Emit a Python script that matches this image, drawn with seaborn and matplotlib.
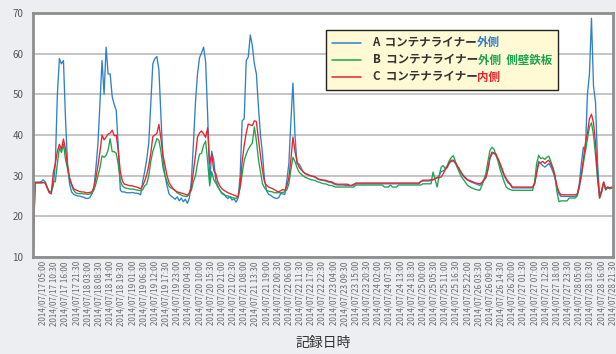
import numpy as np
import pandas as pd
import matplotlib
matplotlib.use("Agg")
import matplotlib.pyplot as plt
from matplotlib.offsetbox import AnchoredOffsetbox, HPacker, VPacker, TextArea, DrawingArea
from matplotlib.lines import Line2D
import seaborn as sns

# ---------------- data (hourly readings from 2014/07/17 00:00) ----------------
start_time = "2014-07-17 00:00"

a_outer = [
    10.0, 28.4, 28.4, 28.4, 28.5, 29.0, 28.5, 27.2, 26.0, 26.0, 27.5, 33.0,
    50.0, 58.8, 57.5, 58.3, 44.0, 33.0, 28.0, 26.0, 25.4, 25.2, 25.0, 25.0,
    24.8, 24.7, 24.4, 24.4, 24.6, 25.5, 27.0, 32.0, 38.0, 48.0, 58.3, 50.0,
    61.6, 55.0, 55.0, 49.4, 47.5, 46.0, 37.0, 26.4, 26.0, 26.0, 25.8, 25.8,
    25.8, 25.9, 25.7, 25.7, 25.6, 25.3, 28.5, 31.0, 34.0, 38.0, 48.0, 57.5,
    58.8, 59.3, 56.0, 44.6, 34.0, 30.0, 27.5, 25.5, 25.0, 24.6, 24.2, 24.8,
    23.8, 24.5, 23.6, 24.2, 23.2, 24.5, 28.8, 38.0, 48.0, 55.0, 59.0, 60.2,
    61.6, 58.0, 45.0, 28.2, 36.0, 33.8, 28.8, 27.5, 26.4, 25.8, 25.5, 24.8,
    24.4, 24.9, 24.0, 24.3, 23.5, 24.5, 30.0, 43.5, 44.0, 58.3, 59.2, 64.6,
    62.0, 57.5, 55.0, 47.0, 40.0, 35.4, 29.0, 26.4, 25.4, 25.2, 24.8, 24.5,
    24.4, 24.6, 25.6, 25.5, 25.4, 28.8, 33.0, 43.5, 52.8, 40.0, 32.9, 32.9,
    32.0, 30.9, 30.6, 30.4, 30.1, 30.0, 29.8, 29.6, 29.2, 29.0, 28.9, 28.8,
    28.7, 28.5, 28.4, 28.3, 28.0, 27.8, 27.7, 27.7, 27.7, 27.7, 27.6, 27.6,
    27.6, 27.6, 27.7, 28.0, 28.0, 28.0, 28.0, 28.0, 28.0, 28.0, 28.0, 28.0,
    28.0, 28.0, 28.0, 28.0, 28.0, 28.0, 28.0, 28.0, 28.0, 28.0, 28.0, 28.0,
    28.0, 28.0, 28.0, 28.0, 28.0, 28.0, 28.0, 28.0, 28.0, 28.0, 28.0, 28.5,
    28.7, 28.7, 28.7, 28.7, 28.8, 29.0, 29.2, 29.5, 30.0, 31.0, 31.2, 31.5,
    32.0, 33.0, 33.5, 33.6, 33.0, 32.0, 31.3, 30.5, 29.8, 29.3, 28.9, 28.6,
    28.4, 28.2, 28.0, 27.8, 27.6, 28.0, 28.8, 29.5, 31.5, 34.2, 35.3, 35.5,
    35.0, 34.0, 32.5, 31.2, 30.0, 29.0, 28.2, 27.8, 27.0, 27.0, 27.0, 27.0,
    27.0, 27.0, 27.0, 27.0, 27.0, 27.0, 27.0, 28.0, 31.0, 33.5, 33.0, 32.5,
    32.1, 32.5, 33.0, 32.2, 31.0, 29.5, 27.0, 25.5, 24.9, 24.9, 24.9, 24.9,
    24.9, 24.9, 24.9, 24.9, 25.3, 28.0, 33.0, 37.0, 36.0, 50.0, 55.0, 68.7,
    52.0, 48.0, 33.0, 25.0, 26.5, 28.4, 26.5, 27.2, 26.8, 27.0, 27.0,
]

b_outer_wall = [
    10.0, 28.2, 28.2, 28.2, 28.2, 28.3, 28.2, 27.0, 26.0, 26.2, 28.5, 28.5,
    33.0, 36.8, 35.7, 37.7, 34.0, 31.7, 29.0, 27.7, 26.4, 25.8, 25.6, 25.6,
    25.6, 25.5, 25.5, 25.4, 25.5, 25.7, 26.5, 28.0, 30.0, 32.0, 34.9, 34.5,
    35.0, 36.3, 39.1, 35.9, 35.9, 35.5, 32.7, 28.7, 27.5, 27.1, 26.9, 26.8,
    26.7, 26.7, 26.6, 26.5, 26.4, 26.3, 26.5, 27.5, 27.9, 30.0, 33.5, 36.0,
    37.5, 39.1, 38.7, 35.9, 32.0, 30.0, 28.5, 27.3, 27.0, 26.7, 26.4, 25.8,
    25.5, 25.2, 25.0, 24.9, 24.9, 25.5, 26.4, 28.5, 30.0, 33.0, 35.3, 35.5,
    37.5, 38.5, 33.5, 27.5, 31.0, 29.0, 28.2, 27.2, 26.5, 25.6, 25.3, 25.1,
    25.0, 24.8, 24.6, 24.5, 24.4, 24.8, 27.0, 30.5, 33.7, 35.3, 36.5, 37.3,
    38.0, 42.0, 38.6, 34.0, 31.0, 28.0, 27.0, 26.4, 26.2, 26.1, 26.0, 25.8,
    25.8, 25.8, 25.8, 25.9, 26.0, 26.5, 28.0, 31.5, 34.5, 33.5, 32.0, 30.9,
    30.4, 30.0, 29.6, 29.4, 29.2, 29.0, 28.9, 28.8, 28.5, 28.4, 28.2, 28.0,
    28.0, 27.8, 27.6, 27.6, 27.4, 27.2, 27.2, 27.2, 27.2, 27.2, 27.2, 27.2,
    27.2, 27.2, 27.2, 27.7, 27.7, 27.7, 27.7, 27.7, 27.7, 27.7, 27.7, 27.7,
    27.7, 27.7, 27.7, 27.7, 27.7, 27.2, 27.2, 27.2, 27.7, 27.2, 27.2, 27.2,
    27.7, 27.7, 27.7, 27.7, 27.7, 27.7, 27.7, 27.7, 27.7, 27.7, 27.7, 27.7,
    28.0, 28.0, 28.0, 28.0, 28.0, 30.9, 29.0, 27.2, 30.0, 32.1, 32.5, 31.7,
    32.5, 33.7, 34.5, 34.9, 33.5, 32.0, 30.7, 29.7, 29.0, 28.3, 27.6, 27.3,
    27.0, 26.8, 26.6, 26.5, 26.4, 27.5, 29.0, 30.5, 33.5, 36.2, 37.0, 36.5,
    35.0, 33.5, 31.5, 30.0, 28.5, 27.2, 26.8, 26.6, 26.4, 26.4, 26.4, 26.4,
    26.4, 26.4, 26.4, 26.4, 26.4, 26.4, 26.4, 28.5, 33.0, 35.0, 34.2, 34.4,
    34.0, 34.5, 34.8, 33.5, 32.0, 30.0, 26.0, 23.6, 23.8, 23.8, 23.8, 23.8,
    24.5, 24.5, 24.5, 24.5, 25.0, 27.0, 30.0, 33.0, 36.0, 39.0, 42.0, 43.0,
    40.0, 35.0, 29.0, 24.5, 26.0, 28.4, 26.5, 27.0, 26.8, 27.0, 27.0,
]

c_inner = [
    10.0, 28.3, 28.3, 28.3, 28.3, 28.3, 28.3, 27.0, 25.8, 25.5, 30.8, 33.0,
    36.0, 37.7, 36.5, 39.0, 36.5, 32.5, 29.5, 28.0, 26.8, 26.5, 26.3, 26.1,
    26.0, 26.0, 25.8, 25.8, 25.9, 26.0, 27.2, 29.5, 32.5, 36.0, 40.0, 38.8,
    39.5, 40.2, 40.5, 41.2, 39.8, 40.0, 36.0, 31.0, 28.7, 27.9, 27.8, 27.6,
    27.5, 27.5, 27.3, 27.2, 27.0, 26.8, 27.5, 28.7, 30.2, 32.5, 35.5, 39.6,
    40.0, 40.4, 42.6, 39.1, 35.1, 32.5, 30.0, 28.3, 27.5, 26.8, 26.3, 26.0,
    25.9, 25.7, 25.6, 25.4, 25.2, 25.8, 27.2, 31.0, 35.0, 39.5, 40.5, 41.0,
    40.3, 39.4, 41.8, 32.9, 35.3, 31.3, 30.5, 28.5, 27.5, 26.8, 26.4, 26.1,
    25.8, 25.6, 25.4, 25.2, 25.0, 24.8, 27.5, 33.5, 37.5, 40.5, 42.7, 42.5,
    42.3, 43.5, 43.3, 39.0, 35.0, 31.3, 28.5, 27.6, 27.2, 27.0, 26.8, 26.5,
    26.2, 26.0, 26.3, 26.6, 26.4, 27.5, 29.5, 34.0, 39.5, 36.0, 33.5, 32.1,
    31.5, 31.0, 30.5, 30.3, 30.1, 29.9, 29.8, 29.7, 29.3, 29.1, 29.0, 28.9,
    28.9, 28.7, 28.5, 28.5, 28.2, 28.0, 27.9, 27.9, 27.9, 27.9, 27.9, 27.9,
    27.6, 27.6, 27.9, 28.2, 28.2, 28.2, 28.2, 28.2, 28.2, 28.2, 28.2, 28.2,
    28.2, 28.2, 28.2, 28.2, 28.2, 28.2, 28.2, 28.2, 28.2, 28.2, 28.2, 28.2,
    28.2, 28.2, 28.2, 28.2, 28.2, 28.2, 28.2, 28.2, 28.2, 28.2, 28.2, 28.6,
    28.9, 28.9, 28.9, 28.9, 29.0, 29.0, 29.3, 29.5, 29.5, 29.7, 30.5, 31.5,
    32.3, 33.3, 33.8, 33.8, 33.2, 32.4, 31.6, 30.7, 30.0, 29.5, 29.0, 28.8,
    28.6, 28.4, 28.2, 28.1, 28.0, 28.3, 29.0, 29.5, 31.5, 34.5, 35.8, 35.6,
    35.3, 34.2, 33.0, 31.7, 30.3, 29.3, 28.5, 28.0, 27.2, 27.2, 27.2, 27.2,
    27.2, 27.2, 27.2, 27.2, 27.2, 27.2, 27.2, 28.0, 30.5, 33.0, 33.2, 33.5,
    33.0, 33.5, 33.8, 32.8, 31.8, 30.0, 27.5, 26.0, 25.3, 25.3, 25.3, 25.3,
    25.3, 25.3, 25.3, 25.3, 25.5, 27.5, 30.0, 34.0, 38.0, 40.5, 44.0, 45.1,
    43.0, 38.0, 30.0, 24.5, 26.0, 28.4, 26.8, 27.2, 27.0, 27.2, 27.2,
]

series_keys = ["A", "B", "C"]
legend_prefix = ["A  コンテナライナー", "B  コンテナライナー", "C  コンテナライナー"]
legend_suffix = ["外側", "外側  側壁鉄板", "内側"]
tick_first = "2014-07-17 05:00"
tick_last = "2014-07-28 21:30"
tick_step = "330min"
x_end = "2014-07-28 21:36"
y_ticks = [10, 20, 30, 40, 50, 60, 70]
x_label = "記録日時"

# ---------------- styling ----------------
colors = {"A": "#2f80c9", "B": "#1ea34f", "C": "#e8232c"}
text_dark = "#333333"

sns.set_style("white")
plt.rcParams["font.family"] = ["Noto Sans CJK JP", "DejaVu Sans"]

n = len(a_outer)
times = pd.date_range(start_time, periods=n, freq="h")
df = pd.DataFrame({
    "time": np.concatenate([times, times, times]),
    "value": a_outer + b_outer_wall + c_inner,
    "series": np.repeat(series_keys, n),
})

fig = plt.figure(figsize=(6.16, 3.54), dpi=100, facecolor="#eceef1")
ax = fig.add_axes([33 / 616, 1 - 257 / 354, 580 / 616, 244 / 354])
ax.set_facecolor("white")

sns.lineplot(data=df, x="time", y="value", hue="series", palette=colors,
             linewidth=0.95, estimator=None, legend=False, ax=ax)

ax.set_xlim(pd.Timestamp(start_time), pd.Timestamp(x_end))
ax.set_ylim(10, 70)
ax.set_yticks(y_ticks)
ax.yaxis.grid(True, color="#b5b5b5", linewidth=1.1)
ax.xaxis.grid(False)
ax.set_axisbelow(True)

ticks = pd.date_range(tick_first, tick_last, freq=tick_step)
ax.set_xticks(ticks)
ax.set_xticklabels([t.strftime("%Y/%m/%d %H:%M") for t in ticks],
                   rotation=90, fontsize=5.8, color="#6a6a6a")
ax.tick_params(axis="x", length=0, pad=3)
ax.tick_params(axis="y", length=0, pad=7, labelsize=7, labelcolor="#555555")
ax.set_ylabel("")
ax.set_xlabel(x_label, fontsize=10, color=text_dark, va="center")
ax.xaxis.set_label_coords(0.5, -(343 - 257) / 244)

for sp in ax.spines.values():
    sp.set_color("#8e8e8e")
    sp.set_linewidth(2.0)
    sp.set_visible(True)

# ---------------- legend with two-colour labels ----------------
legend_rows = []
for key, pre, suf in zip(series_keys, legend_prefix, legend_suffix):
    da = DrawingArea(21, 9, 0, 0)
    da.add_artist(Line2D([0, 21], [4.5, 4.5], color=colors[key], linewidth=1.1))
    t1 = TextArea(pre, textprops=dict(color=text_dark, fontsize=8.3, fontweight="bold"))
    t2 = TextArea(suf, textprops=dict(color=colors[key], fontsize=8.3, fontweight="bold"))
    label = HPacker(children=[t1, t2], pad=0, sep=0)
    legend_rows.append(HPacker(children=[da, label], align="center", pad=0, sep=8))
box = VPacker(children=legend_rows, align="left", pad=0, sep=3)
anch = AnchoredOffsetbox(loc="upper left", child=box, pad=0.55, borderpad=0,
                         frameon=True, bbox_to_anchor=(0.505, 0.93),
                         bbox_transform=ax.transAxes, prop=dict(size=8.3))
anch.patch.set_facecolor("#fffad3")
anch.patch.set_edgecolor("#222222")
anch.patch.set_linewidth(1.0)
anch.patch.set_boxstyle("square", pad=0)
ax.add_artist(anch)

fig.savefig("out.png", dpi=100, facecolor=fig.get_facecolor())
